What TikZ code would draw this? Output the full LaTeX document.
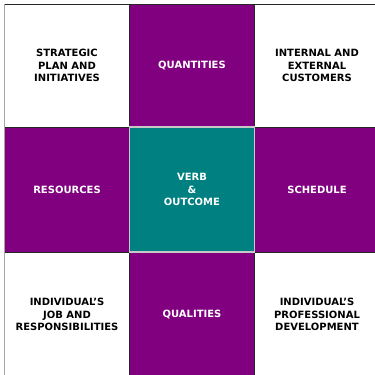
\documentclass[tikz,border=0pt]{standalone}
\usepackage{fontspec}
\setmainfont{DejaVu Sans}
\definecolor{plum}{HTML}{800080}
\definecolor{tealc}{HTML}{008080}
\definecolor{rim}{HTML}{C8C8C8}
\begin{document}
\begin{tikzpicture}[x=1pt,y=1pt,
  cell/.style={rectangle, inner sep=0pt, outer sep=0pt, minimum width=125pt,
    align=center, font=\fontsize{10}{12.3}\selectfont\bfseries,
    draw=black!85, line width=0.9pt},
  plain/.style={cell, fill=white, text=black},
  band/.style={cell, fill=plum, text=white},
  core/.style={cell, fill=tealc, text=white, draw=rim, line width=1.4pt},
  toprow/.style={minimum height=123pt},
  midrow/.style={minimum height=125pt}]
\useasboundingbox (0,0) rectangle (375,-375);
\begin{scope}
\clip (0,0) rectangle (375,-375);
% outer ring of the grid
\node[plain, toprow] (strat) at (67,-65.5) {STRATEGIC\\PLAN AND\\INITIATIVES};
\node[band, toprow] (quant) at (192,-65.5) {QUANTITIES};
\node[plain, toprow] (cust) at (317,-65.5) {INTERNAL AND\\EXTERNAL\\CUSTOMERS};
\node[band, midrow] (res) at (67,-189.5) {RESOURCES};
\node[band, midrow] (sched) at (317,-189.5) {SCHEDULE};
\node[plain, midrow] (job) at (67,-314.5) {INDIVIDUAL’S\\JOB AND\\RESPONSIBILITIES};
\node[band, midrow] (qual) at (192,-314.5) {QUALITIES};
\node[plain, midrow] (dev) at (317,-314.5) {INDIVIDUAL’S\\PROFESSIONAL\\DEVELOPMENT};
% centre cell
\node[core, midrow] (verb) at (192,-189.5) {VERB\\\&\\OUTCOME};
% light left edge
\draw[gray!70, line width=1.2pt] (strat.north west) -- (job.south west);
\end{scope}
\end{tikzpicture}
\end{document}
